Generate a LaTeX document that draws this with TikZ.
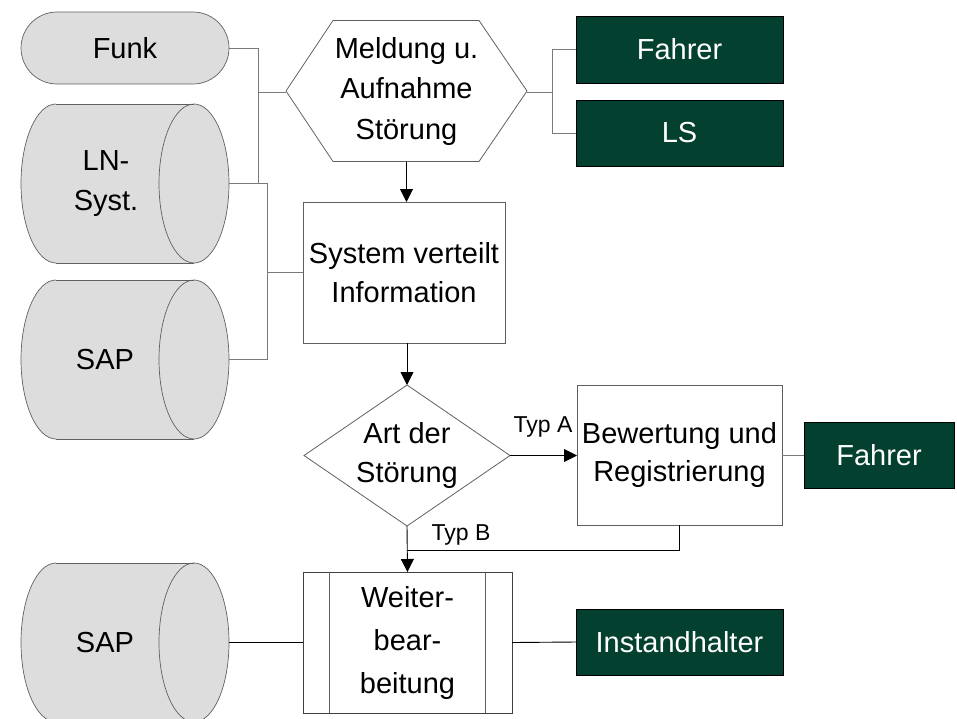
\documentclass[tikz,border=0pt]{standalone}
\usepackage{fontspec}
\setmainfont{Liberation Sans}
\usetikzlibrary{arrows.meta,calc}
\definecolor{darkgreen}{HTML}{03402F}
\definecolor{drumgray}{HTML}{DDDDDD}
\definecolor{edgegray}{HTML}{606060}
\definecolor{busgray}{HTML}{7A7A7A}

% horizontal storage drum, centred on the pic origin
\tikzset{drum/.pic={
  \fill[drumgray] (-69,0) ellipse [x radius=35, y radius=79.5];
  \fill[drumgray] (-69,-79.5) rectangle (69,79.5);
  \fill[drumgray] (69,0) ellipse [x radius=35, y radius=79.5];
  \draw[edgegray, line width=0.7pt] (69,0) ellipse [x radius=35, y radius=79.5];
  \draw[edgegray, line width=0.7pt] (-69,-79.5) -- (69,-79.5) (-69,79.5) -- (69,79.5);
  \begin{scope}
    \clip (-110,-85) rectangle (-69,85);
    \draw[edgegray, line width=0.7pt] (-69,0) ellipse [x radius=35, y radius=79.5];
  \end{scope}
}}

\begin{document}
\begin{tikzpicture}[x=1pt, y=-1pt,
  txt/.style={font=\fontsize{29}{38.5}\selectfont, align=center, inner sep=0pt, outer sep=0pt},
  small/.style={font=\fontsize{23}{27}\selectfont, inner sep=0pt},
  procbox/.style={txt, draw=edgegray, line width=0.8pt},
  actor/.style={txt, fill=darkgreen, draw=black, line width=0.6pt, text=white},
  holder/.style={txt, minimum width=208pt, minimum height=159pt},
  outline/.style={draw=edgegray, line width=0.8pt},
  bus/.style={draw=busgray, line width=0.9pt},
  flow/.style={draw=black, line width=0.9pt},
  arrow/.style={flow, -{Triangle[length=13pt,width=13pt]}}
]
\useasboundingbox (0,0) rectangle (957,718);

% sources on the left
\node[txt, draw=edgegray, fill=drumgray, rounded corners=36pt,
      minimum width=208pt, minimum height=72pt, line width=0.7pt] (funk) at (125,48) {Funk};

\pic at (125,183.5) {drum};
\node[holder] (lns) at (125,183.5) {};
\node[txt, font=\fontsize{29}{40}\selectfont] (lnstext) at (106,183.5) {LN-\\Syst.};

\pic at (125,359.5) {drum};
\node[holder] (sap1) at (125,359.5) {};
\node[txt] (sap1text) at (105,359.5) {SAP};

\pic at (125,642.5) {drum};
\node[holder] (sap2) at (125,642.5) {};
\node[txt] (sap2text) at (105,642.5) {SAP};

% hexagon: report and recording of the fault
\node[txt, font=\fontsize{29}{40.5}\selectfont, minimum width=241pt, minimum height=141pt] (meld) at (406.5,91) {Meldung u.\\Aufnahme\\Störung};
\draw[outline] (meld.west) -- ($(meld.north west)+(47,0)$) -- ($(meld.north east)+(-48,0)$)
  -- (meld.east) -- ($(meld.south east)+(-48,0)$) -- ($(meld.south west)+(47,0)$) -- cycle;

% process box
\node[procbox, minimum width=202pt, minimum height=141pt] (sys) at (404,272.5) {System verteilt\\Information};

% decision diamond
\node[txt, minimum width=206pt, minimum height=141pt] (art) at (407,455.5) {Art der\\Störung};
\draw[outline] (art.west) -- (art.north) -- (art.east) -- (art.south) -- cycle;

\node[procbox, minimum width=205pt, minimum height=140pt] (bew) at (679.5,455) {Bewertung und\\Registrierung};

% predefined process
\node[txt, font=\fontsize{29}{43}\selectfont, draw=black!75, line width=0.8pt,
      minimum width=209pt, minimum height=141pt] (weiter) at (407.5,642.5) {Weiter-\\bear-\\beitung};
\draw[edgegray, line width=0.7pt] ($(weiter.north west)+(26,0)$) -- ($(weiter.south west)+(26,0)$);
\draw[edgegray, line width=0.7pt] ($(weiter.north east)+(-27,0)$) -- ($(weiter.south east)+(-27,0)$);

% actors
\node[actor, minimum width=207pt, minimum height=67pt] (fahrer1) at (679.5,49.5) {Fahrer};
\node[actor, minimum width=207pt, minimum height=66pt] (ls) at (679.5,133) {LS};
\node[actor, minimum width=150pt, minimum height=66pt] (fahrer2) at (879,455) {Fahrer};
\node[actor, minimum width=207pt, minimum height=66pt] (inst) at (679.5,642) {Instandhalter};

% bus connections
\coordinate (j1) at (258,92.5);
\coordinate (j2) at (267,272.5);
\coordinate (j3) at (552,92.5);
\draw[bus] (funk.east) -| (j1) -- (j1 -| meld.west);
\draw[bus] (lns.east) -| (j1);
\draw[bus] (lns.east) -| (j2) -- (sys.west);
\draw[bus] (sap1.east) -| (j2);
\draw[bus] (j3 -| meld.east) -- (j3);
\draw[bus] (fahrer1.west) -| (j3);
\draw[bus] (ls.west) -| (j3);
\draw[bus] (bew.east) -- (fahrer2.west);

% control flow
\draw[arrow] (meld.south) -- (meld.south |- sys.north);
\draw[arrow] (sys.south -| art.north) -- (art.north);
\draw[arrow] (art.east) -- (art.east -| bew.west);
\node[small] (typa) at (543,427) {Typ A};
\coordinate (jb) at (407,550);
\draw[flow] (bew.south) |- (jb);
\draw[arrow] (art.south) -- (weiter.north);
\node[small] (typb) at (461,535) {Typ B};
\draw[flow] (sap2.east) -- (weiter.west);
\draw[flow] (weiter.east) -- (inst.west);
\end{tikzpicture}
\end{document}
